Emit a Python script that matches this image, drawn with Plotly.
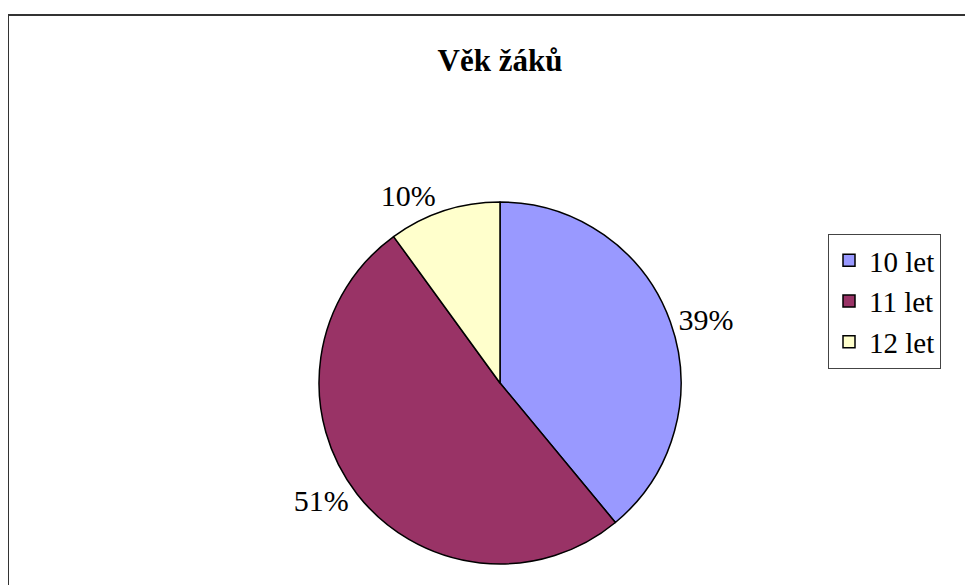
import plotly.graph_objects as go

labels = ["10 let", "11 let", "12 let"]
values = [39, 51, 10]
colors = ["#9999FF", "#993366", "#FFFFCC"]

# page body adds an 8px margin, so figure coords = screen coords - 8
W, H = 973, 585
cx, cy, r = 492, 375, 181

fig = go.Figure(go.Pie(
    labels=labels,
    values=values,
    sort=False,
    direction="clockwise",
    rotation=0,
    marker=dict(colors=colors, line=dict(color="black", width=1.5)),
    textinfo="percent",
    textposition="outside",
    texttemplate="%{percent:.0%}",
    outsidetextfont=dict(family="Liberation Serif, Times New Roman, serif", size=30, color="black"),
    domain=dict(x=[(cx - r) / W, (cx + r) / W],
                y=[(H - cy - r) / H, (H - cy + r) / H]),
))

fig.update_layout(
    width=W, height=H,
    margin=dict(l=0, r=0, t=0, b=0),
    paper_bgcolor="white",
    font=dict(family="Liberation Serif, Times New Roman, serif", color="black"),
    title=dict(text="<b>Věk žáků</b>", x=cx / W, y=1 - 52 / H,
               xanchor="center", yanchor="middle",
               font=dict(family="Liberation Serif, Times New Roman, serif", size=31, color="black")),
    legend=dict(x=820 / W, y=1 - 226 / H, xanchor="left", yanchor="top",
                bordercolor="#444", borderwidth=1,
                font=dict(family="Liberation Serif, Times New Roman, serif", size=29, color="black")),
    shapes=[dict(type="rect", xref="paper", yref="paper",
                 x0=0, x1=1.02, y0=-0.02, y1=1 - 7 / H,
                 line=dict(color="#333", width=2))],
)

fig.write_html("out.html")
